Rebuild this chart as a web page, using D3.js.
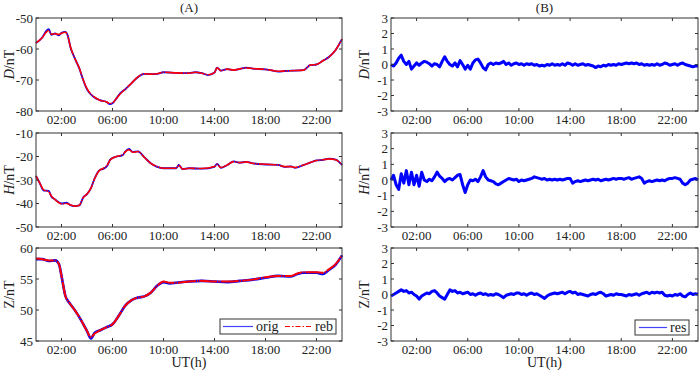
<!DOCTYPE html>
<html>
<head>
<meta charset="utf-8">
<script src="https://cdnjs.cloudflare.com/ajax/libs/d3/7.8.5/d3.min.js"></script>
<style>
  body { margin: 0; background: #fff; }
  svg text { font-family: "Liberation Serif", "Times New Roman", serif; fill: #222; }
</style>
</head>
<body>
<script>
// hour ticks, shared by all panels
var hourTicks = [2, 6, 10, 14, 18, 22];
var hourLabels = ["02:00", "06:00", "10:00", "14:00", "18:00", "22:00"];

// (A) original and rebuilt field, [hour, nT]
var dOrig = [[0,-58.1],[0.5,-56.2],[0.8,-54.2],[1.0,-53.6],[1.2,-55.4],[1.5,-55.0],[1.8,-55.6],[2.0,-54.8],[2.3,-54.5],[2.5,-55.8],
  [2.7,-59.4],[3.0,-62.6],[3.4,-66.3],[3.7,-70.0],[4.0,-73.0],[4.5,-75.4],[5.0,-76.5],[5.5,-77.0],[5.8,-77.8],[6.0,-77.5],
  [6.3,-76.0],[6.6,-74.3],[7.0,-73.0],[7.5,-71.0],[8.0,-69.0],[8.5,-68.0],[9.0,-68.1],[9.5,-68.0],[10.0,-67.5],[11.0,-67.7],
  [12.0,-67.8],[12.5,-67.5],[13.0,-67.8],[13.5,-68.4],[14.0,-67.6],[14.2,-66.0],[14.5,-67.0],[15.0,-66.5],[15.5,-66.8],[16.0,-66.4],
  [16.5,-66.0],[17.0,-66.3],[18.0,-66.6],[18.5,-66.9],[19.0,-67.3],[19.5,-67.1],[20.0,-67.0],[21.0,-66.8],[21.5,-65.2],[22.0,-65.0],
  [22.5,-63.8],[23.0,-62.5],[23.5,-60.3],[24.0,-56.8]];
var dReb = [[0,-58.0],[0.5,-56.3],[0.8,-54.6],[1.0,-54.0],[1.2,-55.2],[1.5,-55.1],[1.8,-55.3],[2.0,-54.9],[2.3,-54.6],[2.5,-55.9],
  [2.7,-59.3],[3.0,-62.6],[3.4,-66.2],[3.7,-69.9],[4.0,-72.8],[4.5,-75.3],[5.0,-76.5],[5.5,-77.0],[5.8,-77.6],[6.0,-77.4],
  [6.3,-76.0],[6.6,-74.5],[7.0,-73.0],[7.5,-71.0],[8.0,-69.0],[8.5,-68.0],[9.0,-68.1],[9.5,-68.0],[10.0,-67.5],[11.0,-67.7],
  [12.0,-67.8],[12.5,-67.5],[13.0,-67.8],[13.5,-68.3],[14.0,-67.6],[14.2,-66.1],[14.5,-67.0],[15.0,-66.5],[15.5,-66.8],[16.0,-66.4],
  [16.5,-66.1],[17.0,-66.3],[18.0,-66.6],[18.5,-66.9],[19.0,-67.2],[19.5,-67.1],[20.0,-67.0],[21.0,-66.8],[21.5,-65.2],[22.0,-65.0],
  [22.5,-63.8],[23.0,-62.5],[23.5,-60.3],[24.0,-56.8]];

var hOrig = [[0,-28.3],[0.3,-31.4],[0.6,-34.5],[1.0,-34.6],[1.2,-37.0],[1.5,-38.3],[2.0,-40.0],[2.4,-39.6],[2.7,-40.7],[3.0,-41.1],
  [3.4,-40.8],[3.7,-37.4],[4.0,-36.0],[4.3,-33.6],[4.6,-29.3],[5.0,-25.7],[5.3,-25.2],[5.6,-23.8],[5.8,-21.4],[6.2,-20.2],
  [6.8,-19.4],[7.0,-17.9],[7.3,-16.8],[7.6,-18.1],[8.0,-17.8],[8.5,-20.3],[9.0,-22.9],[9.5,-24.4],[10.0,-25.0],[11.0,-25.0],
  [11.2,-23.6],[11.5,-25.4],[12.0,-25.0],[13.0,-25.2],[14.0,-24.4],[14.2,-23.1],[14.5,-24.8],[15.0,-23.6],[15.5,-22.1],[16.0,-22.6],
  [16.5,-22.3],[17.0,-22.9],[18.0,-23.4],[19.0,-23.6],[19.5,-24.4],[20.0,-24.2],[20.3,-24.8],[21.0,-23.6],[21.5,-22.6],[22.0,-21.7],
  [22.5,-21.4],[23.0,-20.9],[23.5,-21.3],[24.0,-23.6]];
var hReb = [[0,-28.3],[0.3,-31.3],[0.6,-34.2],[1.0,-35.0],[1.2,-36.8],[1.5,-38.4],[2.0,-40.1],[2.4,-40.0],[2.7,-40.6],[3.0,-41.1],
  [3.4,-40.7],[3.7,-37.5],[4.0,-36.0],[4.3,-33.6],[4.6,-29.4],[5.0,-25.8],[5.3,-25.0],[5.6,-23.6],[5.8,-21.6],[6.2,-20.2],
  [6.8,-19.3],[7.0,-18.0],[7.3,-17.1],[7.6,-18.2],[8.0,-17.9],[8.5,-20.4],[9.0,-22.9],[9.5,-24.3],[10.0,-25.0],[11.0,-25.0],
  [11.2,-23.7],[11.5,-25.4],[12.0,-25.0],[13.0,-25.1],[14.0,-24.3],[14.2,-23.3],[14.5,-24.7],[15.0,-23.6],[15.5,-22.2],[16.0,-22.6],
  [16.5,-22.3],[17.0,-22.9],[18.0,-23.3],[19.0,-23.6],[19.5,-24.3],[20.0,-24.3],[20.3,-24.7],[21.0,-23.6],[21.5,-22.6],[22.0,-21.7],
  [22.5,-21.4],[23.0,-21.0],[23.5,-21.4],[24.0,-23.6]];

var zOrig = [[0,58.2],[0.5,58.2],[1.0,57.9],[1.5,58.0],[1.8,57.4],[2.0,55.5],[2.3,52.3],[2.6,51.2],[3.0,50.1],[3.5,48.5],
  [4.0,46.6],[4.3,45.4],[4.6,46.3],[5.0,46.7],[5.5,47.2],[6.0,47.7],[6.5,49.1],[7.0,50.7],[7.5,51.6],[8.0,52.0],
  [8.5,52.2],[9.0,52.8],[9.5,53.9],[10.0,54.5],[10.5,54.3],[11.0,54.4],[12.0,54.6],[13.0,54.7],[14.0,54.6],[15.0,54.5],
  [16.0,54.7],[17.0,54.9],[18.0,55.2],[19.0,55.5],[20.0,55.4],[20.5,55.8],[21.0,56.0],[22.0,56.0],[22.5,55.8],[23.0,56.5],
  [23.5,57.3],[24.0,58.8]];
var zReb = [[0,58.3],[0.5,58.2],[1.0,58.0],[1.5,58.0],[1.8,57.4],[2.0,55.5],[2.3,52.3],[2.6,51.2],[3.0,50.1],[3.5,48.5],
  [4.0,46.6],[4.3,45.6],[4.6,46.2],[5.0,46.7],[5.5,47.2],[6.0,47.7],[6.5,49.1],[7.0,50.7],[7.5,51.6],[8.0,52.0],
  [8.5,52.2],[9.0,52.8],[9.5,53.9],[10.0,54.6],[10.5,54.4],[11.0,54.4],[12.0,54.6],[13.0,54.7],[14.0,54.6],[15.0,54.6],
  [16.0,54.7],[17.0,54.9],[18.0,55.3],[19.0,55.5],[20.0,55.5],[20.5,55.9],[21.0,56.1],[22.0,56.1],[22.5,56.0],[23.0,56.6],
  [23.5,57.4],[24.0,58.8]];

// (B) residuals orig - reb, nT, sampled every 0.2 h from 00:00 to 24:00
var resHours = d3.range(0, 121).map(function(i) { return i * 0.2; });
var dRes = [0.0,-0.1,0.1,0.4,0.6,0.2,0.0,0.2,-0.3,-0.1,
  0.1,-0.05,0.1,0.2,0.15,0.05,-0.1,0.05,0.0,-0.15,
  0.2,0.5,0.2,0.0,-0.1,0.1,-0.15,0.25,0.0,-0.3,
  -0.05,-0.3,0.1,0.3,0.35,0.1,-0.2,-0.35,0.0,0.1,
  0.0,0.1,0.05,0.1,0.2,0.0,0.1,-0.05,0.05,0.1,
  0.0,0.05,-0.05,0.05,0.0,0.05,-0.05,0.0,-0.1,-0.05,
  -0.1,0.0,-0.05,0.05,-0.05,0.0,-0.05,0.05,-0.05,0.1,
  0.05,-0.05,0.05,-0.05,0.0,0.05,-0.05,0.0,-0.05,-0.1,
  -0.2,-0.1,-0.15,-0.05,-0.1,0.0,-0.05,0.0,-0.05,0.05,
  0.0,0.05,0.1,0.05,0.1,0.05,0.1,0.0,0.05,-0.05,
  0.0,-0.05,0.0,-0.05,0.05,-0.05,0.0,0.1,0.05,-0.05,
  0.0,0.05,-0.05,0.05,0.1,0.0,-0.05,-0.1,-0.15,-0.1,-0.1];
var hRes = [0.0,0.3,-0.3,-0.6,0.4,-0.2,0.6,-0.3,0.5,-0.3,
  0.3,-0.4,0.5,0.0,-0.1,0.05,-0.05,0.2,0.5,0.25,
  0.1,-0.1,0.05,0.1,0.0,0.15,0.3,0.35,-0.3,-0.8,
  -0.3,0.0,-0.05,0.05,-0.1,0.2,0.6,0.2,0.0,-0.05,
  -0.1,-0.25,-0.3,-0.2,-0.1,0.0,0.1,0.05,0.0,0.05,
  -0.1,0.0,-0.05,0.0,0.05,0.1,0.2,0.15,0.1,0.05,
  0.1,0.0,0.05,0.0,0.05,0.0,0.05,0.0,0.05,0.1,
  0.1,-0.2,-0.1,-0.05,-0.1,-0.05,0.0,-0.05,0.0,0.05,
  0.0,0.05,-0.05,0.0,0.05,0.0,0.05,0.1,0.05,0.1,
  0.1,0.05,0.1,0.15,0.05,0.1,0.15,0.2,0.1,-0.2,
  -0.1,-0.05,-0.1,-0.05,0.0,-0.05,0.0,-0.05,0.05,0.1,
  0.1,0.15,0.1,0.05,-0.2,-0.3,-0.2,0.0,0.05,0.1,0.0];
var zRes = [-0.1,0.0,0.1,0.2,0.3,0.2,0.25,0.1,0.15,0.0,
  -0.1,-0.3,-0.1,0.0,0.1,0.05,0.2,0.25,0.1,-0.1,
  -0.2,-0.3,0.0,0.3,0.2,0.25,0.1,0.15,0.05,0.1,
  0.15,0.0,0.05,-0.05,0.05,0.1,0.0,0.05,-0.05,0.0,
  -0.05,0.05,0.0,-0.1,-0.2,-0.05,0.0,0.05,0.0,0.1,
  0.1,0.0,0.05,-0.05,0.05,0.1,0.0,0.05,-0.05,-0.15,
  -0.25,-0.1,0.0,0.05,0.1,0.05,0.1,0.15,0.05,0.15,
  0.2,0.1,0.15,0.0,0.05,0.0,-0.05,-0.1,0.0,0.05,
  0.0,0.1,0.15,0.05,-0.1,-0.05,0.0,-0.05,0.05,0.0,
  0.0,-0.05,-0.1,0.0,-0.05,0.0,0.05,-0.05,0.05,0.1,
  0.15,0.05,0.15,0.1,0.15,0.1,0.15,-0.05,-0.1,-0.05,
  -0.1,0.0,-0.05,0.05,-0.1,-0.15,0.0,0.1,0.0,0.05,0.0];

var dTicks = [-80, -70, -60, -50];
var hTicks = [-50, -40, -30, -20, -10];
var zTicks = [45, 50, 55, 60];
var resTicks = [-3, -2, -1, 0, 1, 2, 3];

var width = 700, height = 372;
var svg = d3.select("body").append("svg")
  .attr("width", width)
  .attr("height", height);

var rows = [{top: 18, bottom: 111}, {top: 133, bottom: 227}, {top: 248, bottom: 341}];
var cols = [{left: 36, right: 342}, {left: 391, right: 698}];

var blue = "#0000ff", red = "#ff0000";

function pairs(values) {
  return values.map(function(v, i) { return [resHours[i], v]; });
}

function drawPanel(col, row, domain, ticks, comp, italic, series) {
  var x = d3.scaleLinear().domain([0, 24]).range([col.left, col.right]);
  var y = d3.scaleLinear().domain(domain).range([row.bottom, row.top]);
  var g = svg.append("g");

  var line = d3.line()
    .x(function(d) { return x(d[0]); })
    .y(function(d) { return y(d[1]); });

  series.forEach(function(s) {
    g.append("path")
      .datum(s.data)
      .attr("fill", "none")
      .attr("stroke", s.color)
      .attr("stroke-width", s.width)
      .attr("stroke-linejoin", "round")
      .attr("stroke-dasharray", s.dash || null)
      .attr("d", line.curve(s.curve || d3.curveLinear));
  });

  // box
  g.append("rect")
    .attr("x", col.left).attr("y", row.top)
    .attr("width", col.right - col.left).attr("height", row.bottom - row.top)
    .attr("fill", "none").attr("stroke", "#333").attr("stroke-width", 1);

  // inward ticks on all four sides
  var tl = 3;
  hourTicks.forEach(function(t, i) {
    g.append("line").attr("x1", x(t)).attr("x2", x(t)).attr("y1", row.bottom).attr("y2", row.bottom - tl).attr("stroke", "#333");
    g.append("line").attr("x1", x(t)).attr("x2", x(t)).attr("y1", row.top).attr("y2", row.top + tl).attr("stroke", "#333");
    g.append("text").attr("x", x(t)).attr("y", row.bottom + 13)
      .attr("text-anchor", "middle").style("font-size", "13px").text(hourLabels[i]);
  });
  ticks.forEach(function(v) {
    g.append("line").attr("x1", col.left).attr("x2", col.left + tl).attr("y1", y(v)).attr("y2", y(v)).attr("stroke", "#333");
    g.append("line").attr("x1", col.right).attr("x2", col.right - tl).attr("y1", y(v)).attr("y2", y(v)).attr("stroke", "#333");
    g.append("text").attr("x", col.left - 3).attr("y", y(v) + 4.5)
      .attr("text-anchor", "end").style("font-size", "13px").text(v);
  });

  // y label
  var lab = g.append("text")
    .attr("transform", "translate(" + (col.left - 22) + "," + ((row.top + row.bottom) / 2) + ") rotate(-90)")
    .attr("text-anchor", "middle").style("font-size", "14px");
  lab.append("tspan").style("font-style", italic ? "italic" : "normal").text(comp);
  lab.append("tspan").text("/nT");
}

var rebDash = "18,1,1.5,1";
drawPanel(cols[0], rows[0], [-80, -50], dTicks, "D", true, [
  {data: dOrig, color: blue, width: 1.8, curve: d3.curveMonotoneX},
  {data: dReb, color: red, width: 1.6, dash: rebDash, curve: d3.curveMonotoneX}]);
drawPanel(cols[0], rows[1], [-50, -10], hTicks, "H", true, [
  {data: hOrig, color: blue, width: 1.8, curve: d3.curveMonotoneX},
  {data: hReb, color: red, width: 1.6, dash: rebDash, curve: d3.curveMonotoneX}]);
drawPanel(cols[0], rows[2], [45, 60], zTicks, "Z", false, [
  {data: zOrig, color: blue, width: 2.6, curve: d3.curveMonotoneX},
  {data: zReb, color: red, width: 2.0, dash: rebDash, curve: d3.curveMonotoneX}]);

drawPanel(cols[1], rows[0], [-3, 3], resTicks, "D", true, [{data: pairs(dRes), color: blue, width: 3}]);
drawPanel(cols[1], rows[1], [-3, 3], resTicks, "H", true, [{data: pairs(hRes), color: blue, width: 3}]);
drawPanel(cols[1], rows[2], [-3, 3], resTicks, "Z", false, [{data: pairs(zRes), color: blue, width: 3}]);

// titles and x labels
[["(A)", cols[0]], ["(B)", cols[1]]].forEach(function(p) {
  svg.append("text").attr("x", (p[1].left + p[1].right) / 2).attr("y", 12)
    .attr("text-anchor", "middle").style("font-size", "13px").text(p[0]);
  svg.append("text").attr("x", (p[1].left + p[1].right) / 2).attr("y", 367)
    .attr("text-anchor", "middle").style("font-size", "14px").text("UT(h)");
});

// legends
function legend(x0, y0, w, items) {
  var g = svg.append("g");
  g.append("rect").attr("x", x0).attr("y", y0).attr("width", w).attr("height", 15)
    .attr("fill", "#fff").attr("stroke", "#333").attr("stroke-width", 1);
  items.forEach(function(it) {
    g.append("line").attr("x1", x0 + it.dx).attr("x2", x0 + it.dx + it.len)
      .attr("y1", y0 + 7.5).attr("y2", y0 + 7.5)
      .attr("stroke", it.color).attr("stroke-width", 1.2)
      .attr("stroke-dasharray", it.dash || null);
    g.append("text").attr("x", x0 + it.dx + it.len + 3).attr("y", y0 + 12)
      .style("font-size", "14px").text(it.label);
  });
}
legend(220, 319, 116, [
  {label: "orig", color: "#4444ff", dx: 3, len: 30},
  {label: "reb", color: red, dx: 65, len: 27, dash: "5,2,1.5,2"}]);
legend(635, 320, 54, [{label: "res", color: "#4444ff", dx: 4, len: 28}]);
</script>
</body>
</html>
